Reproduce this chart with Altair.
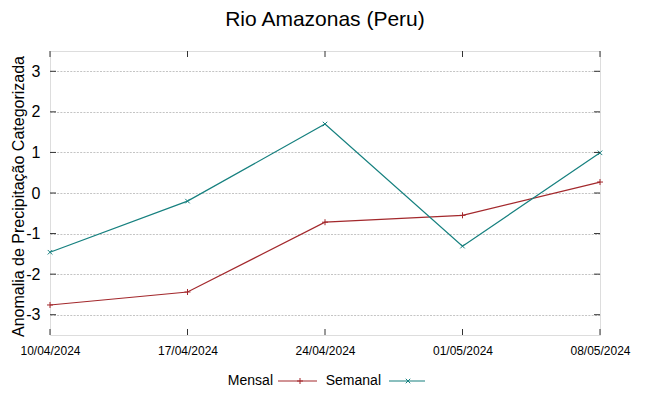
import altair as alt
import pandas as pd

# ---- data ----
dates = ["2024-04-10", "2024-04-17", "2024-04-24", "2024-05-01", "2024-05-08"]
mensal = [-2.76, -2.44, -0.72, -0.55, 0.27]
semanal = [-1.46, -0.20, 1.70, -1.31, 0.99]
series_names = ["Mensal", "Semanal"]
series_colors = ["#a3282c", "#16807f"]
y_ticks = [-3, -2, -1, 0, 1, 2, 3]
y_domain = [-3.5, 3.5]
title_text = "Rio Amazonas (Peru)"
y_title = "Anomalia de Precipitação Categorizada"

W, H = 550, 284
FONT = "Liberation Sans"

df = pd.DataFrame({
    "date": dates * 2,
    "value": mensal + semanal,
    "serie": [series_names[0]] * len(dates) + [series_names[1]] * len(dates),
})

def dt(s):
    y, m, d = (int(p) for p in s.split("-"))
    return alt.DateTime(year=y, month=m, date=d, utc=True)

x_scale = alt.Scale(type="utc", domain=[dt(dates[0]), dt(dates[-1])])
y_scale = alt.Scale(domain=y_domain, nice=False, zero=False)
color_scale = alt.Scale(domain=series_names, range=series_colors)
plus_path = "M-1,0L1,0M0,-1L0,1"
x_path = "M-0.75,-0.75L0.75,0.75M-0.75,0.75L0.75,-0.75"
shape_scale = alt.Scale(domain=series_names, range=[plus_path, x_path])

x_axis = alt.Axis(values=[dt(d) for d in dates], format="%d/%m/%Y", grid=False,
                  ticks=False, domain=False, labelFont=FONT, labelFontSize=12,
                  labelColor="black", labelPadding=10, labelFlush=False,
                  labelOverlap=False, title=None)
y_axis = alt.Axis(values=y_ticks, grid=True, gridDash=[2, 1.3], gridColor="#c4c4c4",
                  gridWidth=1, ticks=False, domain=False, labelFont=FONT,
                  labelFontSize=16, labelColor="black", labelPadding=10,
                  labelExpr="'' + datum.value",
                  title=y_title, titleFont=FONT, titleFontSize=16,
                  titleFontWeight="normal", titleColor="black",
                  titleX=-32, titleY=H / 2 + 3, titleAngle=270,
                  titleAlign="center", titleBaseline="middle")

base = alt.Chart(df)

lines = base.mark_line(strokeWidth=1.2).encode(
    x=alt.X("date:T", scale=x_scale, axis=x_axis),
    y=alt.Y("value:Q", scale=y_scale, axis=y_axis),
    color=alt.Color("serie:N", scale=color_scale, legend=None),
    detail="serie:N",
)
points = base.mark_point(filled=False, size=36, strokeWidth=1, opacity=1).encode(
    x=alt.X("date:T", scale=x_scale),
    y=alt.Y("value:Q", scale=y_scale),
    color=alt.Color("serie:N", scale=color_scale, legend=None),
    shape=alt.Shape("serie:N", scale=shape_scale, legend=None),
)

# inward ticks (gnuplot style)
tick_df_x = pd.DataFrame({"date": dates})
tick_df_y = pd.DataFrame({"v": y_ticks})
tk = dict(color="#333333", strokeWidth=1)
xt_bot = alt.Chart(tick_df_x).mark_rule(**tk).encode(
    x=alt.X("date:T", scale=x_scale), y=alt.value(H), y2=alt.value(H - 6))
xt_top = alt.Chart(tick_df_x).mark_rule(**tk).encode(
    x=alt.X("date:T", scale=x_scale), y=alt.value(0), y2=alt.value(6))
yt_left = alt.Chart(tick_df_y).mark_rule(**tk).encode(
    y=alt.Y("v:Q", scale=y_scale), x=alt.value(0), x2=alt.value(6))
yt_right = alt.Chart(tick_df_y).mark_rule(**tk).encode(
    y=alt.Y("v:Q", scale=y_scale), x=alt.value(W - 6), x2=alt.value(W))

# manual legend: label, then sample line with marker
leg_layers = []
leg_pos = [  # (text right edge, line start, line end, marker x)
    (223, 228, 267, 250),
    (331, 339, 375, 358),
]
LEG_Y = 330
for name, col, shp, (tx, l0, l1, mx) in zip(series_names, series_colors,
                                             [plus_path, x_path], leg_pos):
    d = pd.DataFrame({"serie": [name]})
    leg_layers.append(alt.Chart(d).mark_text(align="right", baseline="middle",
                                             font=FONT, fontSize=14, color="black")
                      .encode(text="serie:N", x=alt.value(tx), y=alt.value(LEG_Y)))
    leg_layers.append(alt.Chart(d).mark_rule(color=col, strokeWidth=1.2)
                      .encode(x=alt.value(l0), x2=alt.value(l1), y=alt.value(LEG_Y)))
    leg_layers.append(alt.Chart(d).mark_point(filled=False, size=36, strokeWidth=1,
                                              color=col, shape=shp, opacity=1)
                      .encode(x=alt.value(mx), y=alt.value(LEG_Y)))

chart = alt.layer(lines, points, xt_bot, xt_top, yt_left, yt_right, *leg_layers).properties(
    width=W, height=H,
    title=alt.TitleParams(title_text, font=FONT, fontSize=21, fontWeight="normal",
                          color="black", anchor="middle", offset=21),
    autosize=alt.AutoSizeParams(type="none"),
    padding={"left": 42, "top": 43, "right": 41, "bottom": 53},
).configure_view(stroke="#404040", strokeWidth=1.5).configure(background="white")

chart.save("out.html", embed_options={"renderer": "svg", "actions": False})
